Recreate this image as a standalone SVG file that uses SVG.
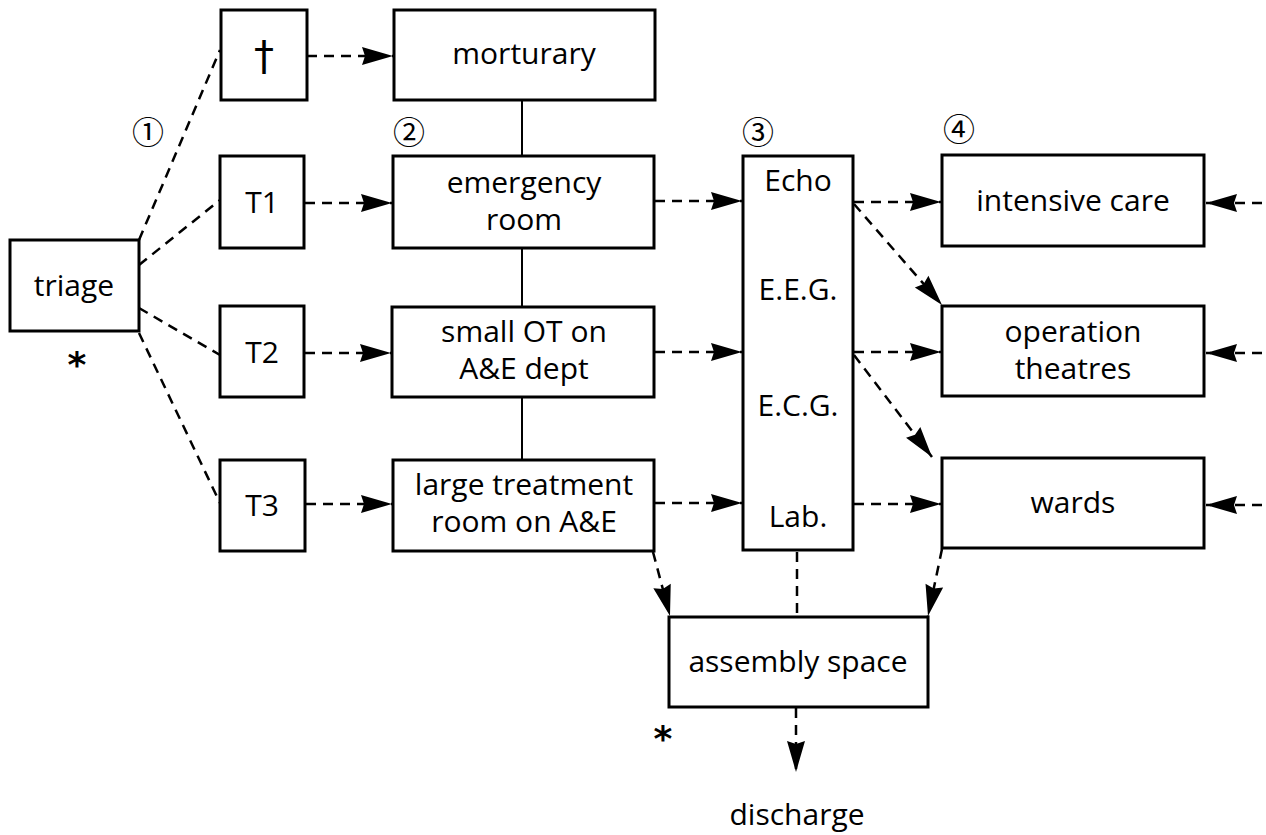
<svg xmlns="http://www.w3.org/2000/svg" width="1266" height="835" viewBox="0 0 1266 835">
<style>
.box{fill:#fff;stroke:#000;stroke-width:3}
.t{font-family:"Open Sans","DejaVu Sans",sans-serif;font-size:30px;fill:#000;text-anchor:middle}
.c{font-family:"Noto Sans CJK JP","DejaVu Sans",sans-serif;font-size:32px;fill:#000;text-anchor:middle;dominant-baseline:central}
.st{font-family:"DejaVu Sans",sans-serif;font-size:36px;font-weight:bold;fill:#000;text-anchor:middle}
.d{fill:none;stroke:#000;stroke-width:2.5;stroke-dasharray:10 7}
.s{fill:none;stroke:#000;stroke-width:2}
</style>
<defs>
<marker id="ah" markerUnits="userSpaceOnUse" markerWidth="34" markerHeight="22" refX="31" refY="11" orient="auto" overflow="visible">
<path d="M0,2 L31,11 L0,20 L3,11 Z" fill="#000"/>
</marker>
</defs>
<rect width="1266" height="835" fill="#fff"/>
<g id="connectors">
<path class="d" d="M139,240 L220,50"/>
<path class="d" d="M139,265 L220,200"/>
<path class="d" d="M139,308 L220,355"/>
<path class="d" d="M139,333 L220,503"/>
<path class="d" d="M307,56 L393,56" marker-end="url(#ah)"/>
<path class="d" d="M305,203 L392,203" marker-end="url(#ah)"/>
<path class="d" d="M305,353 L391,353" marker-end="url(#ah)"/>
<path class="d" d="M306,504 L392,504" marker-end="url(#ah)"/>
<path class="s" d="M522,100 L522,156 M522,248 L522,307 M522,397 L522,460"/>
<path class="d" d="M655,201 L742,201" marker-end="url(#ah)"/>
<path class="d" d="M655,352 L742,352" marker-end="url(#ah)"/>
<path class="d" d="M655,503 L742,503" marker-end="url(#ah)"/>
<path class="d" d="M854,202 L941,202" marker-end="url(#ah)"/>
<path class="d" d="M854,352 L941,352" marker-end="url(#ah)"/>
<path class="d" d="M854,504 L941,504" marker-end="url(#ah)"/>
<path class="d" d="M854,204 L942,305" marker-end="url(#ah)"/>
<path class="d" d="M854,355 L932,457" marker-end="url(#ah)"/>
<path class="d" d="M1262,203 L1206,203" marker-end="url(#ah)"/>
<path class="d" d="M1262,353 L1206,353" marker-end="url(#ah)"/>
<path class="d" d="M1262,505 L1206,505" marker-end="url(#ah)"/>
<path class="d" d="M653,552 L670,616" marker-end="url(#ah)"/>
<path class="d" d="M942,549 L928,616" marker-end="url(#ah)"/>
<path class="d" d="M797,552 L797,617"/>
<path class="d" d="M796,708 L796,772" marker-end="url(#ah)"/>
</g>
<g id="triage"><rect class="box" x="10" y="240" width="129" height="91"/><text class="t" x="74" y="296">triage</text><text class="st" x="77" y="377">*</text></g>
<g id="dead"><rect class="box" x="221" y="10" width="86" height="90"/><text class="t" x="264" y="70" style="font-size:40px;font-family:'DejaVu Sans',sans-serif">†</text></g>
<g id="t1"><rect class="box" x="220" y="156" width="84" height="92"/><text class="t" x="262" y="213">T1</text></g>
<g id="t2"><rect class="box" x="220" y="306" width="84" height="91"/><text class="t" x="262" y="363">T2</text></g>
<g id="t3"><rect class="box" x="220" y="460" width="85" height="91"/><text class="t" x="262" y="516">T3</text></g>
<g id="morturary"><rect class="box" x="394" y="10" width="261" height="90"/><text class="t" x="524" y="64">morturary</text></g>
<g id="emergency"><rect class="box" x="393" y="156" width="261" height="92"/><text class="t" x="524" y="193">emergency</text><text class="t" x="524" y="230">room</text></g>
<g id="smallot"><rect class="box" x="392" y="307" width="262" height="90"/><text class="t" x="524" y="342">small OT on</text><text class="t" x="524" y="379">A&amp;E dept</text></g>
<g id="large"><rect class="box" x="393" y="460" width="261" height="91"/><text class="t" x="524" y="495">large treatment</text><text class="t" x="524" y="532">room on A&amp;E</text></g>
<g id="diagnostics"><rect class="box" x="743" y="156" width="110" height="394"/>
<text class="t" x="798" y="191">Echo</text><text class="t" x="798" y="300">E.E.G.</text><text class="t" x="798" y="416">E.C.G.</text><text class="t" x="798" y="527">Lab.</text></g>
<g id="icu"><rect class="box" x="942" y="155" width="262" height="91"/><text class="t" x="1073" y="211">intensive care</text></g>
<g id="ot"><rect class="box" x="942" y="306" width="262" height="90"/><text class="t" x="1073" y="342">operation</text><text class="t" x="1073" y="379">theatres</text></g>
<g id="wards"><rect class="box" x="942" y="458" width="262" height="90"/><text class="t" x="1073" y="513">wards</text></g>
<g id="assembly"><rect class="box" x="669" y="617" width="259" height="90"/><text class="t" x="798" y="672">assembly space</text><text class="st" x="663" y="751">*</text></g>
<g id="discharge"><text class="t" x="797" y="825">discharge</text></g>
<g id="labels"><text class="c" x="148" y="130">①</text><text class="c" x="409" y="130">②</text><text class="c" x="758" y="130">③</text><text class="c" x="959" y="127">④</text></g>
</svg>
